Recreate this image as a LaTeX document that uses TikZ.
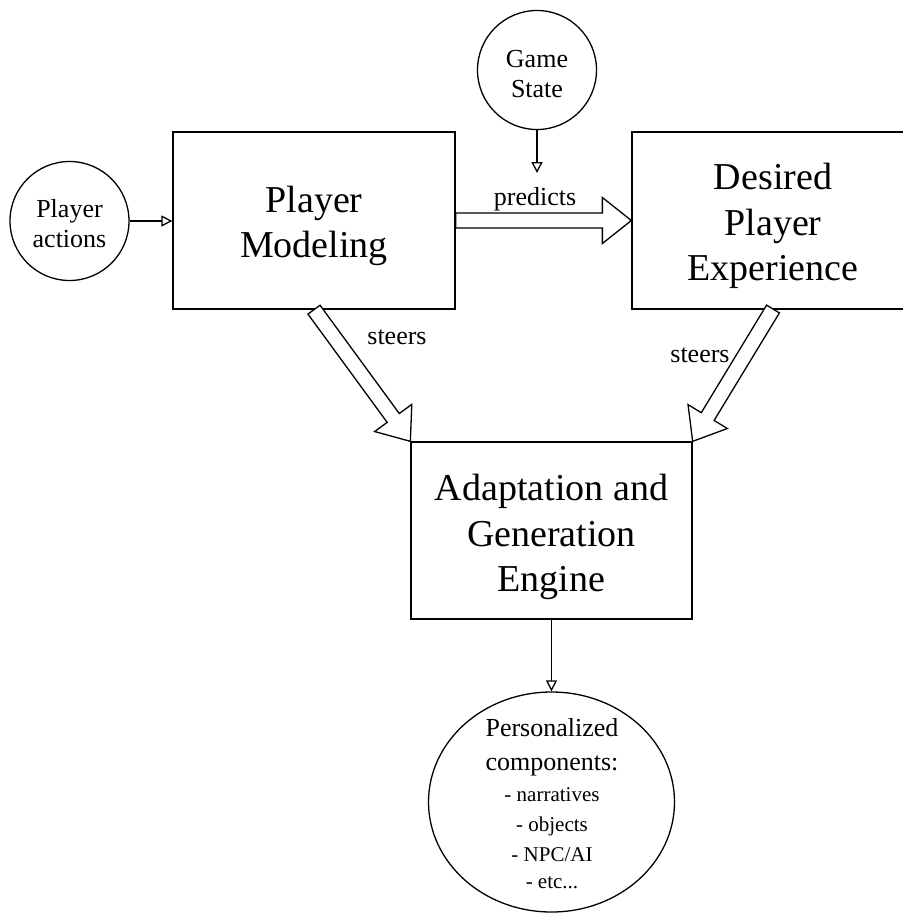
\documentclass[tikz,border=0pt]{standalone}
\usepackage{fontspec}
\setmainfont{Liberation Serif}
\usetikzlibrary{arrows.meta,shapes.geometric,calc}

\newcommand\bigtxt{\fontsize{38}{45.5}\selectfont}
\newcommand\midtxt{\fontsize{26}{30}\selectfont}
\newcommand\listtxt{\fontsize{21}{30}\selectfont}

\tikzset{
  outline/.style={draw, line width=1.3pt},
  box/.style={outline, rectangle, inner sep=0pt, minimum width=282pt, minimum height=177pt},
  boxtext/.style={align=center, font=\bigtxt, inner sep=0pt},
  bubble/.style={outline, circle, inner sep=0pt, minimum size=119pt},
  bubbletext/.style={align=center, font=\midtxt, inner sep=0pt},
  flow/.style={line width=1.3pt, -{Triangle[open, length=11pt, width=11pt]}},
  blockarr/.style={outline, fill=white, line join=miter},
  lbl/.style={font=\midtxt, inner sep=0pt}
}

% hollow block arrow from #1 (tail centre) to #2 (tip)
\newcommand\blockarrow[2]{%
  \coordinate (ba) at ($(#2)!29pt!(#1)$);
  \draw[blockarr]
    ($(#1)!7.5pt!90:(#2)$) -- ($(ba)!7.5pt!90:(#2)$) -- ($(ba)!23pt!90:(#2)$)
    -- (#2)
    -- ($(ba)!23pt!-90:(#2)$) -- ($(ba)!7.5pt!-90:(#2)$) -- ($(#1)!7.5pt!-90:(#2)$)
    -- cycle;}

\begin{document}
\begin{tikzpicture}[x=1pt, y=-1pt]
  \useasboundingbox (0,0) rectangle (903,914);
  \clip (0,0) rectangle (903,914);

  % boxes
  \node[box] (pm) at (314,220.5) {};
  \node[boxtext] (pmtxt) at (314,226) {Player\\Modeling};
  \node[box] (dpe) at (773,220.5) {};
  \node[boxtext] (dpetxt) at (773,226) {Desired\\Player\\Experience};
  \node[box, minimum width=281pt] (adapt) at (551.5,530.5) {};
  \node[boxtext] (adapttxt) at (551.5,537) {Adaptation and\\Generation\\Engine};

  % inputs and output
  \node[bubble] (pa) at (69.5,221) {};
  \node[bubbletext] (patxt) at (69.5,224) {Player\\actions};
  \node[bubble] (gs) at (537,70) {};
  \node[bubbletext] (gstxt) at (537,74) {Game\\State};
  \node[outline, ellipse, inner sep=0pt, minimum width=246pt, minimum height=220pt] (out) at (551.5,802) {};
  \node[align=center, font=\listtxt, inner sep=0pt] (outtxt) at (552,804)
    {{\midtxt Personalized}\\[4pt]{\midtxt components:}\\[1pt]- narratives\\- objects\\- NPC/AI\\[-3pt]- etc...};

  % thin connectors
  \coordinate (gstip) at (537,173);
  \draw[flow] (pa.east) -- (pm.west |- pa.east);
  \draw[flow] (gs.south) -- (gstip);
  \draw[flow] (adapt.south) -- (adapt.south |- out.north);

  % block arrows
  \coordinate (dpetail) at (773,309);
  \blockarrow{pm.east}{dpe.west}
  \blockarrow{pm.south}{adapt.north west}
  \blockarrow{dpetail}{adapt.north east}

  % labels
  \node[lbl] (lpred) at (535,199) {predicts};
  \node[lbl] (lst1) at (397,337) {steers};
  \node[lbl] (lst2) at (700,355) {steers};
\end{tikzpicture}
\end{document}
